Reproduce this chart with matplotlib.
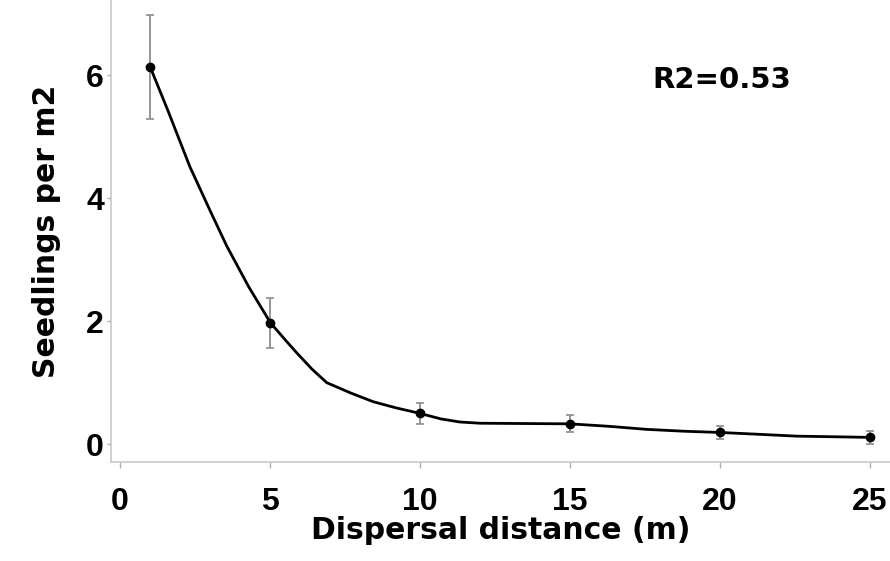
import numpy as np
import matplotlib
matplotlib.use("Agg")
import matplotlib.pyplot as plt

plt.rcParams['font.family'] = ['Liberation Sans', 'DejaVu Sans']

# observed means and errors
dist = [1, 5, 10, 15, 20, 25]
seedlings = [6.13, 1.97, 0.50, 0.33, 0.19, 0.11]
err = [0.85, 0.40, 0.17, 0.14, 0.11, 0.10]

# fitted curve
fit_x = [1.0, 1.6, 2.33, 3.0, 3.56, 4.3, 5.02, 5.5, 5.9, 6.4, 6.89, 7.7, 8.44, 9.2, 10.0, 10.7, 11.33, 12.0, 13.5, 15.0, 16.3, 17.56, 18.8, 20.0, 21.3, 22.56, 23.8, 25.0]
fit_y = [6.14, 5.42, 4.51, 3.80, 3.22, 2.55, 1.97, 1.70, 1.48, 1.22, 1.00, 0.83, 0.69, 0.59, 0.50, 0.41, 0.36, 0.34, 0.335, 0.33, 0.29, 0.24, 0.21, 0.19, 0.16, 0.13, 0.12, 0.11]

xticks = [0, 5, 10, 15, 20, 25]
yticks = [0, 2, 4, 6]

fig = plt.figure(figsize=(8.9, 5.61), dpi=100)
ax = fig.add_axes([0.1247, 0.1765, 0.8753, 0.8235])

ax.plot(fit_x, fit_y, color='black', lw=2, zorder=2,
        solid_joinstyle='round', solid_capstyle='round')
ax.errorbar(dist, seedlings, yerr=err, fmt='none', ecolor='#8c8c8c',
            elinewidth=1.3, capsize=3, capthick=1.2, zorder=1)
ax.plot(dist, seedlings, 'o', color='black', ms=6, zorder=3)

ax.text(20.07, 5.92, 'R2=0.53', fontsize=21, fontweight='bold',
        family='DejaVu Sans', ha='center', va='center')

ax.set_xlim(-0.3, 25.67)
ax.set_ylim(-0.29, 7.22)
ax.set_xticks(xticks)
ax.set_yticks(yticks)

for s in ['top', 'right']:
    ax.spines[s].set_visible(False)
for s in ['left', 'bottom']:
    ax.spines[s].set_color('#c8c8c8')
    ax.spines[s].set_linewidth(1.2)
ax.tick_params(colors='#b0b0b0', width=1, labelcolor='black', labelsize=23)
ax.tick_params(axis='x', length=4, pad=14)
ax.tick_params(axis='y', length=3, pad=2)
for lab in ax.get_xticklabels() + ax.get_yticklabels():
    lab.set_fontweight('bold')

ax.set_xlabel('Dispersal distance (m)', fontsize=21.5, fontweight='bold',
              family='DejaVu Sans', labelpad=-1)
ax.set_ylabel('Seedlings per m2', fontsize=21.5, fontweight='bold',
              family='DejaVu Sans', labelpad=18)

fig.savefig('out.png', dpi=100)
